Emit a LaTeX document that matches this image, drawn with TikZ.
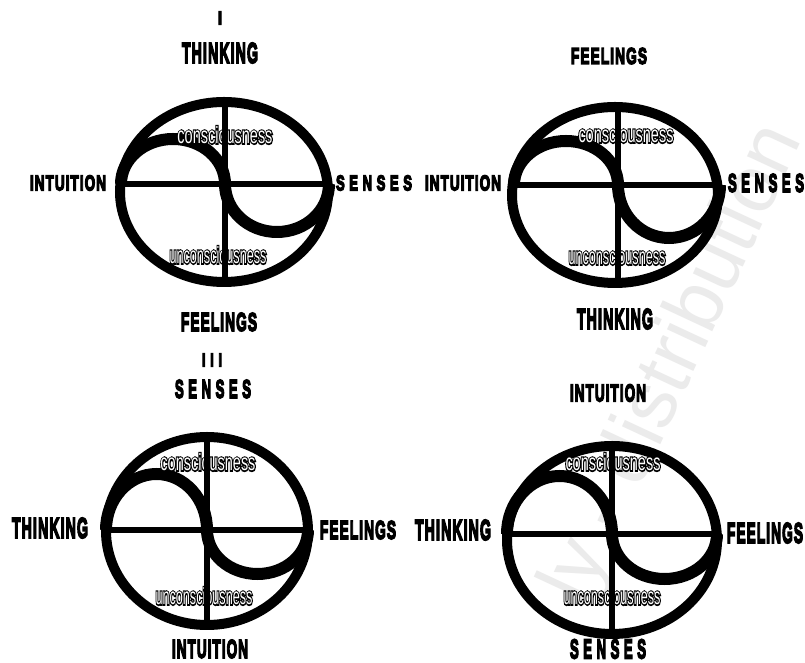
\documentclass[tikz,border=0pt]{standalone}
\usepackage{graphicx}
\usepackage{fontspec}
\setmainfont{Liberation Sans}
\newfontfamily\labfont[UprightFont={* Bold}, LetterSpace=8]{Liberation Sans}
\newfontfamily\widelabfont[UprightFont={* Bold}, LetterSpace=35]{Liberation Sans}
% heavy black letters
\newcommand{\heavy}[1]{\special{pdf:literal direct 0 G 0.7 w 2 Tr}#1\special{pdf:literal direct 0 Tr}}
\newcommand{\lab}[2][18pt]{\resizebox{76pt}{#1}{\labfont\heavy{#2}}}
\newcommand{\widelab}[2][18pt]{\resizebox{76pt}{#1}{\widelabfont\heavy{#2}}}
% white letters, black rim
\newcommand{\psy}[2][95pt]{\resizebox{#1}{17pt}{\rlap{\special{pdf:literal direct 0 G 1.3 w 1 Tr}#2\special{pdf:literal direct 0 Tr}}#2}}

\begin{document}
\begin{tikzpicture}[
  x=1pt, y=1pt,
  ring/.style={line width=10pt},
  axis/.style={line width=6.5pt},
  wave/.style={line width=12pt},
  pole/.style={inner sep=0pt},
  layer/.style={inner sep=0pt, text=white}
]
\useasboundingbox[fill=white] (0,0) rectangle (805,663);
\node[rotate=65, text=black!8, font=\fontsize{80}{80}\selectfont] (mark) at (675,299) {ly - distribution};

% I
\begin{scope}[shift={(225,479)}]
  \draw[ring] (-1,-8) ellipse [x radius=104, y radius=90];
  \draw[axis] (-105,0) -- (103,0);
  \draw[wave] (-104,0) arc[start angle=180, end angle=0, x radius=52, y radius=45]
              arc[start angle=180, end angle=360, x radius=52, y radius=48];
  \node[layer] (c1) at (0,49) {\psy{consciousness}};
  \node[layer] (u1) at (-7,-71) {\psy[97pt]{unconsciousness}};
  \draw[axis] (0,82) -- (0,-98);
\end{scope}
\node[pole] (n1) at (220,645) {\resizebox{4pt}{13pt}{\labfont\heavy{I}}};
\node[pole] (top1) at (220,610) {\lab[20pt]{THINKING}};
\node[pole] (left1) at (68,480) {\lab[15pt]{INTUITION}};
\node[pole] (right1) at (374,480) {\widelab[15pt]{SENSES}};
\node[pole] (bot1) at (219,341) {\lab{FEELINGS}};

% II
\begin{scope}[shift={(618,478)}]
  \draw[ring] (-3,-10) ellipse [x radius=103, y radius=88];
  \draw[axis] (-106,0) -- (100,0);
  \draw[wave] (-104,0) arc[start angle=180, end angle=0, x radius=52, y radius=44]
              arc[start angle=180, end angle=360, x radius=51, y radius=53];
  \node[layer] (c2) at (8,51) {\psy{consciousness}};
  \node[layer] (u2) at (-1,-71) {\psy[97pt]{unconsciousness}};
  \draw[axis] (0,78) -- (0,-98);
\end{scope}
\node[pole] (top2) at (609,607) {\lab[16pt]{FEELINGS}};
\node[pole] (left2) at (463,480) {\lab[15pt]{INTUITION}};
\node[pole] (right2) at (766,480) {\widelab{SENSES}};
\node[pole] (bot2) at (615,344) {\lab[20pt]{THINKING}};

% III
\begin{scope}[shift={(207,133)}]
  \draw[ring] (0,-1) ellipse [x radius=101, y radius=94];
  \draw[axis] (-101,0) -- (101,0);
  \draw[wave] (-101,0) arc[start angle=180, end angle=0, x radius=50.5, y radius=56]
              arc[start angle=180, end angle=360, x radius=50.5, y radius=44];
  \node[layer] (c3) at (1,68) {\psy{consciousness}};
  \node[layer] (u3) at (-3,-66) {\psy[97pt]{unconsciousness}};
  \draw[axis] (0,93) -- (0,-95);
\end{scope}
\node[pole] (n3) at (212,303) {\resizebox{20pt}{13pt}{\widelabfont\heavy{III}}};
\node[pole] (top3) at (213,274) {\widelab{SENSES}};
\node[pole] (left3) at (50,135) {\lab[20pt]{THINKING}};
\node[pole] (right3) at (358,133) {\lab{FEELINGS}};
\node[pole] (bot3) at (210,14) {\lab{INTUITION}};

% IV
\begin{scope}[shift={(612,129)}]
  \draw[ring] (0,-6) ellipse [x radius=105, y radius=94];
  \draw[axis] (-105,0) -- (105,0);
  \draw[wave] (-105,0) arc[start angle=180, end angle=0, x radius=52.5, y radius=58]
              arc[start angle=180, end angle=360, x radius=52.5, y radius=45];
  \node[layer] (c4) at (1,72) {\psy{consciousness}};
  \node[layer] (u4) at (0,-62) {\psy[97pt]{unconsciousness}};
  \draw[axis] (0,88) -- (0,-100);
\end{scope}
\node[pole] (top4) at (608,270) {\lab[17pt]{INTUITION}};
\node[pole] (left4) at (453,133) {\lab[20pt]{THINKING}};
\node[pole] (right4) at (765,130) {\lab[20pt]{FEELINGS}};
\node[pole] (bot4) at (608,14) {\widelab[19pt]{SENSES}};
\end{tikzpicture}
\end{document}
